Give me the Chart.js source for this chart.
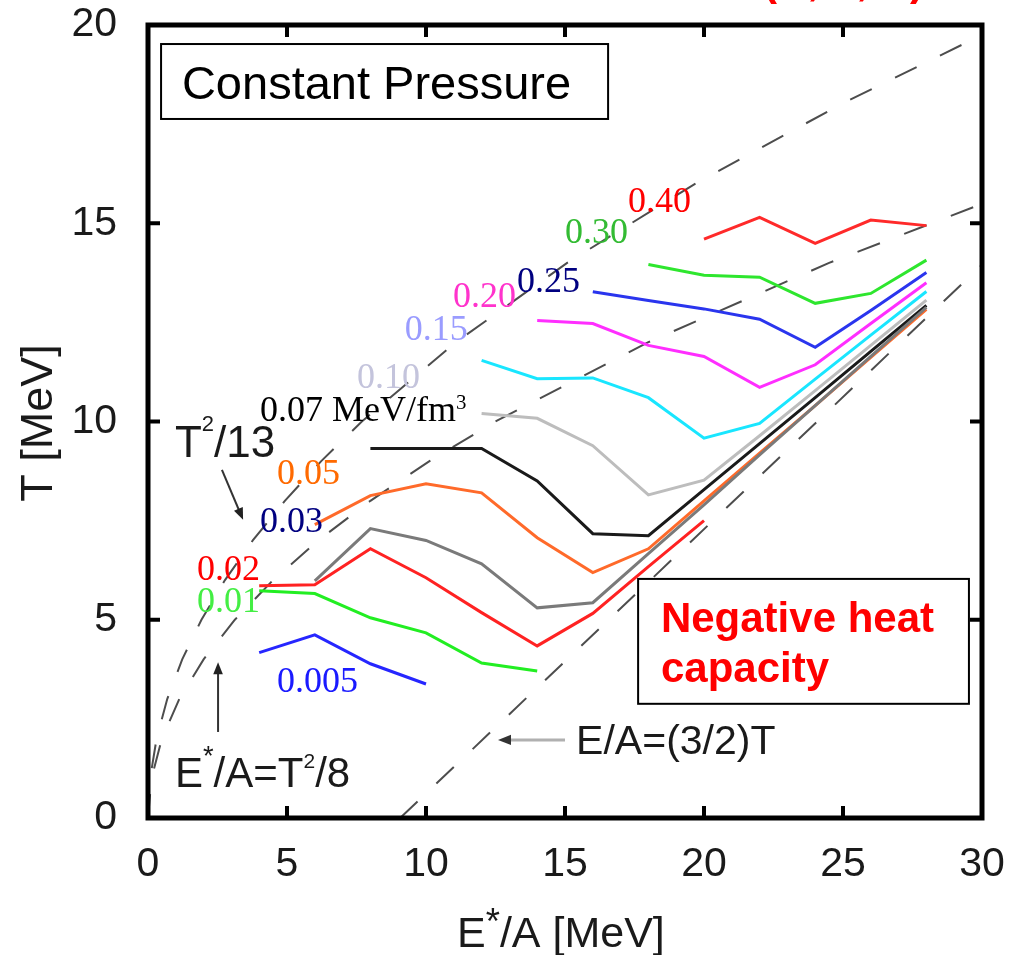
<!DOCTYPE html>
<html>
<head>
<meta charset="utf-8">
<script src="https://cdn.jsdelivr.net/npm/chart.js@4.4.0/dist/chart.umd.min.js"></script>
<style>
  html, body { margin: 0; padding: 0; background: #fff; }
  #wrap { width: 1027px; height: 955px; }
</style>
</head>
<body>
<div id="wrap"><canvas id="chart" width="1027" height="955"></canvas></div>
<script>
// excitation energy per nucleon (MeV), shared by all isobars
const energies = [4, 6, 8, 10, 12, 14, 16, 18, 20, 22, 24, 26, 28];

// temperature (MeV) along each constant-pressure line, null where not computed
const tP0005 = [4.17, 4.62, 3.89, 3.38, null, null, null, null, null, null, null, null, null];
const tP001  = [5.73, 5.66, 5.05, 4.67, 3.91, 3.71, null, null, null, null, null, null, null];
const tP002  = [5.86, 5.88, 6.79, 6.06, 5.18, 4.34, 5.16, 6.34, 7.50, null, null, null, null];
const tP003  = [null, 5.98, 7.30, 7.00, 6.41, 5.30, 5.43, 6.67, 7.90, 9.16, 10.40, 11.64, 12.88];
const tP005  = [null, 7.40, 8.13, 8.43, 8.20, 7.07, 6.19, 6.79, 8.00, 9.20, 10.40, 11.62, 12.83];
const tP007  = [null, null, 9.32, 9.32, 9.32, 8.50, 7.17, 7.12, 8.28, 9.44, 10.60, 11.77, 12.93];
const tP010  = [null, null, null, null, 10.20, 10.08, 9.39, 8.15, 8.52, 9.64, 10.78, 11.92, 13.06];
const tP015  = [null, null, null, null, 11.54, 11.08, 11.10, 10.60, 9.58, 9.95, 11.07, 12.18, 13.28];
const tP020  = [null, null, null, null, null, 12.55, 12.47, 11.92, 11.64, 10.86, 11.43, 12.47, 13.50];
const tP025  = [null, null, null, null, null, null, 13.27, 13.05, 12.84, 12.58, 11.87, 12.80, 13.76];
const tP030  = [null, null, null, null, null, null, null, 13.96, 13.69, 13.64, 12.98, 13.23, 14.07];
const tP040  = [null, null, null, null, null, null, null, null, 14.60, 15.15, 14.49, 15.08, 14.94];

// reference curves: E*/A = T^2/13, E*/A = T^2/8 and E/A = (3/2)T
const fermi13E = [0, 0.077, 0.308, 0.692, 1.231, 1.923, 2.769, 3.769, 4.923, 6.231, 7.692, 11.077, 15.077, 19.692, 24.923, 30.0];
const fermi13T = [0, 1, 2, 3, 4, 5, 6, 7, 8, 9, 10, 12, 14, 16, 18, 19.75];
const fermi8E  = [0, 0.125, 0.5, 1.125, 2, 3.125, 4.5, 6.125, 8, 10.125, 12.5, 18, 24.5, 30.0];
const fermi8T  = [0, 1, 2, 3, 4, 5, 6, 7, 8, 9, 10, 12, 14, 15.49];
const gasE = [9.07, 30];
const gasT = [0, 13.95];

// axis ticks
const xTicks = [0, 5, 10, 15, 20, 25, 30];
const yTicks = [0, 5, 10, 15, 20];

const pressures = ['0.005', '0.01', '0.02', '0.03', '0.05', '0.07', '0.10', '0.15', '0.20', '0.25', '0.30', '0.40'];
const series = [tP0005, tP001, tP002, tP003, tP005, tP007, tP010, tP015, tP020, tP025, tP030, tP040];
const lineColors = ['#2626ff', '#22ee22', '#ff2222', '#7a7a7a', '#ff6a2a', '#1a1a1a',
                    '#bdbdbd', '#19e6ff', '#ff2eff', '#2a35ee', '#2ee62e', '#ff2a2a'];

function pairs(xs, ys) {
  return xs.map((x, i) => ({ x: x, y: ys[i] }));
}

const datasets = series.map((vals, i) => ({
  label: pressures[i],
  data: pairs(energies, vals),
  borderColor: lineColors[i],
  borderWidth: 3,
  pointRadius: 0,
  fill: false,
  tension: 0,
  spanGaps: false
}));

const dashStyle = { borderColor: '#4d4d4d', borderWidth: 2, borderDash: [24, 26], pointRadius: 0, fill: false, tension: 0 };
datasets.push(Object.assign({ label: 'T2/13', data: pairs(fermi13E, fermi13T) }, dashStyle));
datasets.push(Object.assign({ label: 'T2/8', data: pairs(fermi8E, fermi8T) }, dashStyle));
datasets.push(Object.assign({ label: '3/2 T', data: pairs(gasE, gasT) }, dashStyle));

const SANS = '"Liberation Sans", Arial, sans-serif';
const SERIF = '"Liberation Serif", "Times New Roman", serif';

// curve labels: text pieces, anchor (E, T) of left end of the baseline, colour
const curveLabels = [
  { parts: [{ t: '0.005' }], at: [4.64, 3.18], color: '#1a1aff' },
  { parts: [{ t: '0.01' }], at: [1.76, 5.20], color: '#44ee44' },
  { parts: [{ t: '0.02' }], at: [1.76, 6.00], color: '#ff0000' },
  { parts: [{ t: '0.03' }], at: [4.03, 7.21], color: '#000080' },
  { parts: [{ t: '0.05' }], at: [4.64, 8.42], color: '#ff6a00' },
  { parts: [{ t: '0.07 MeV/fm' }, { t: '3', size: 0.58, rise: 0.34 }], at: [4.03, 10.01], color: '#000000' },
  { parts: [{ t: '0.10' }], at: [7.52, 10.84], color: '#c4c4dc' },
  { parts: [{ t: '0.15' }], at: [9.24, 12.06], color: '#9a9cff' },
  { parts: [{ t: '0.20' }], at: [10.97, 12.89], color: '#ff33cc' },
  { parts: [{ t: '0.25' }], at: [13.27, 13.27], color: '#000080' },
  { parts: [{ t: '0.30' }], at: [15.0, 14.50], color: '#33bb33' },
  { parts: [{ t: '0.40' }], at: [17.27, 15.28], color: '#ff0000' }
];

function drawParts(ctx, parts, x, y, size, family, weight, color) {
  ctx.fillStyle = color;
  ctx.textAlign = 'left';
  ctx.textBaseline = 'alphabetic';
  for (const p of parts) {
    const s = size * (p.size || 1);
    ctx.font = weight + ' ' + s + 'px ' + family;
    ctx.fillText(p.t, x, y - size * (p.rise || 0));
    x += ctx.measureText(p.t).width;
  }
}

function arrow(ctx, x1, y1, x2, y2, lineColor, headColor, width, head) {
  const ang = Math.atan2(y2 - y1, x2 - x1);
  ctx.save();
  ctx.strokeStyle = lineColor;
  ctx.lineWidth = width;
  ctx.beginPath();
  ctx.moveTo(x1, y1);
  ctx.lineTo(x2 - Math.cos(ang) * head * 0.8, y2 - Math.sin(ang) * head * 0.8);
  ctx.stroke();
  ctx.fillStyle = headColor;
  ctx.beginPath();
  ctx.moveTo(x2, y2);
  ctx.lineTo(x2 - head * Math.cos(ang) + head * 0.4 * Math.sin(ang), y2 - head * Math.sin(ang) - head * 0.4 * Math.cos(ang));
  ctx.lineTo(x2 - head * Math.cos(ang) - head * 0.4 * Math.sin(ang), y2 - head * Math.sin(ang) + head * 0.4 * Math.cos(ang));
  ctx.closePath();
  ctx.fill();
  ctx.restore();
}

const decorations = {
  id: 'decorations',
  afterDatasetsDraw(chart) {
    const ctx = chart.ctx;
    const sx = chart.scales.x, sy = chart.scales.y;
    const px = v => sx.getPixelForValue(v);
    const py = v => sy.getPixelForValue(v);
    const area = chart.chartArea;
    ctx.save();

    // frame with inward ticks on all four sides
    ctx.strokeStyle = '#000';
    ctx.lineWidth = 5;
    ctx.strokeRect(area.left, area.top, area.right - area.left, area.bottom - area.top);
    ctx.lineWidth = 4;
    ctx.beginPath();
    xTicks.slice(1, -1).forEach(v => {
      const x = px(v);
      ctx.moveTo(x, area.bottom); ctx.lineTo(x, area.bottom - 12);
      ctx.moveTo(x, area.top); ctx.lineTo(x, area.top + 12);
    });
    yTicks.slice(1, -1).forEach(v => {
      const y = py(v);
      ctx.moveTo(area.left, y); ctx.lineTo(area.left + 12, y);
      ctx.moveTo(area.right, y); ctx.lineTo(area.right - 12, y);
    });
    ctx.stroke();

    // boxed notes
    ctx.lineWidth = 2;
    ctx.strokeStyle = '#000';
    ctx.fillStyle = '#fff';
    const box1 = [px(0.47), py(19.52), px(16.55), py(17.63)];
    ctx.fillRect(box1[0], box1[1], box1[2] - box1[0], box1[3] - box1[1]);
    ctx.strokeRect(box1[0], box1[1], box1[2] - box1[0], box1[3] - box1[1]);
    const box2 = [px(17.63), py(6.03), px(29.53), py(2.88)];
    ctx.fillStyle = '#fff';
    ctx.fillRect(box2[0], box2[1], box2[2] - box2[0], box2[3] - box2[1]);
    ctx.strokeRect(box2[0], box2[1], box2[2] - box2[0], box2[3] - box2[1]);

    drawParts(ctx, [{ t: 'Constant Pressure' }], px(1.22), py(18.13), 47, SANS, 'normal', '#000');
    drawParts(ctx, [{ t: 'Negative heat' }], px(18.45), py(4.69), 42, SANS, 'bold', '#ff0000');
    drawParts(ctx, [{ t: 'capacity' }], px(18.45), py(3.43), 42, SANS, 'bold', '#ff0000');

    // isobar labels
    curveLabels.forEach(l => {
      drawParts(ctx, l.parts, px(l.at[0]), py(l.at[1]), 36, SERIF, 'normal', l.color);
    });

    // reference-curve annotations
    drawParts(ctx, [{ t: 'T' }, { t: '2', size: 0.5, rise: 0.6 }, { t: '/13' }], px(0.97), py(9.10), 44, SANS, 'normal', '#1a1a1a');
    arrow(ctx, px(2.66), py(8.78), px(3.42), py(7.52), '#333', '#222', 2, 12);

    drawParts(ctx, [{ t: 'E' }, { t: '*', size: 0.65, rise: 0.52 }, { t: '/A=T' }, { t: '2', size: 0.5, rise: 0.45 }, { t: '/8' }],
      px(0.97), py(0.78), 42, SANS, 'normal', '#1a1a1a');
    arrow(ctx, px(2.52), py(2.17), px(2.52), py(3.93), '#333', '#222', 2, 12);

    drawParts(ctx, [{ t: 'E/A=(3/2)T' }], px(15.4), py(1.61), 41, SANS, 'normal', '#1a1a1a');
    arrow(ctx, px(15.0), py(1.97), px(12.59), py(1.97), '#b0b0b0', '#333', 3, 13);

    // axis titles
    drawParts(ctx, [{ t: 'E' }, { t: '*', size: 0.85, rise: 0.3 }, { t: '/A [MeV]' }], 457, 947, 43, SANS, 'normal', '#1a1a1a');
    ctx.save();
    ctx.translate(52, 423);
    ctx.rotate(-Math.PI / 2);
    ctx.font = 'normal 45px ' + SANS;
    ctx.fillStyle = '#1a1a1a';
    ctx.textAlign = 'center';
    ctx.textBaseline = 'alphabetic';
    ctx.fillText('T [MeV]', 0, 0);
    ctx.restore();

    // heading running off the top edge
    drawParts(ctx, [{ t: '(N, Z, A)' }], 763, -5, 42, SANS, 'bold', '#ff0000');

    ctx.restore();
  }
};

new Chart(document.getElementById('chart'), {
  type: 'line',
  data: { datasets: datasets },
  options: {
    responsive: false,
    animation: false,
    devicePixelRatio: 1,
    layout: { padding: { top: 25, right: 45, left: 0, bottom: 0 } },
    plugins: { legend: { display: false }, tooltip: { enabled: false } },
    scales: {
      x: {
        type: 'linear', min: 0, max: 30,
        afterFit(scale) { scale.height = 137; scale.paddingLeft = 0; scale.paddingRight = 0; },
        afterBuildTicks(scale) { scale.ticks = xTicks.map(v => ({ value: v })); },
        grid: { display: false, drawTicks: false },
        border: { display: false },
        ticks: { padding: 22, color: '#1a1a1a', font: { family: SANS, size: 41 } }
      },
      y: {
        type: 'linear', min: 0, max: 20,
        afterFit(scale) { scale.width = 148; scale.paddingTop = 0; scale.paddingBottom = 0; },
        afterBuildTicks(scale) { scale.ticks = yTicks.map(v => ({ value: v })); },
        grid: { display: false, drawTicks: false },
        border: { display: false },
        ticks: { padding: 31, color: '#1a1a1a', font: { family: SANS, size: 41 } }
      }
    }
  },
  plugins: [decorations]
});
</script>
</body>
</html>
